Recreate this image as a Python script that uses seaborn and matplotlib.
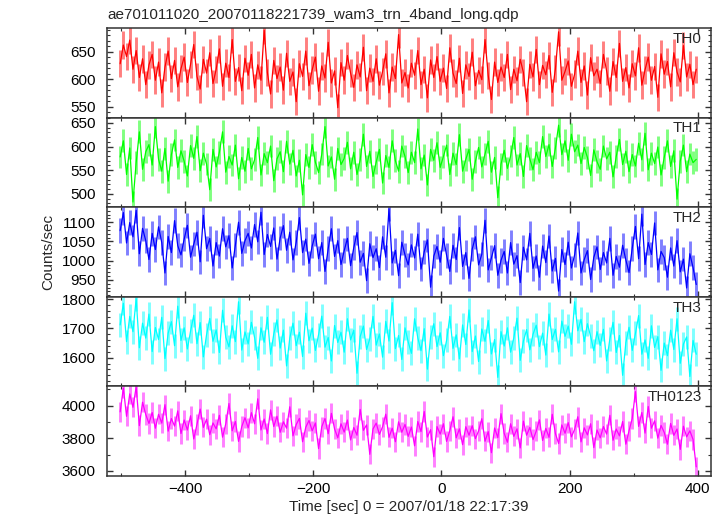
import numpy as np
import matplotlib
matplotlib.use("Agg")
import matplotlib.pyplot as plt
from matplotlib.ticker import MultipleLocator
import seaborn as sns

# light curve: one sample every 5 s, first bin at t = -502 s
t_start = -502
t_step = 5

th0 = [
    628, 662, 641, 671, 618, 652, 603, 637, 590, 626,
    645, 598, 631, 575, 622, 651, 601, 634, 586, 619,
    640, 594, 627, 663, 605, 582, 636, 611, 648, 592,
    618, 655, 587, 629, 603, 672, 596, 621, 579, 638,
    607, 645, 584, 626, 598, 689, 612, 573, 634, 601,
    622, 580, 647, 596, 613, 559, 628, 605, 651, 588,
    617, 640, 578, 624, 602, 667, 593, 615, 548, 630,
    598, 643, 611, 585, 626, 604, 658, 579, 620, 596,
    637, 589, 614, 646, 575, 622, 601, 681, 593, 612,
    584, 629, 607, 652, 590, 618, 566, 635, 603, 641,
    596, 620, 583, 657, 611, 592, 638, 574, 626, 605,
    649, 588, 616, 599, 672, 607, 563, 631, 594, 622,
    603, 645, 581, 618, 597, 636, 612, 559, 627, 604,
    654, 590, 625, 608, 643, 576, 619, 686, 598, 614,
    633, 587, 609, 651, 594, 624, 571, 639, 606, 618,
    592, 645, 615, 578, 632, 603, 665, 596, 621, 584,
    628, 606, 657, 589, 617, 640, 598, 623, 567, 646,
    609, 632, 586, 648, 613, 595, 661, 604, 627, 590,
    618,
]

th1 = [
    578, 612, 541, 597, 483, 566, 631, 552, 589, 604,
    561, 642, 573, 548, 596, 527, 583, 614, 556, 591,
    569, 538, 602, 575, 621, 549, 586, 563, 509, 594,
    557, 588, 631, 546, 579, 561, 603, 532, 577, 548,
    596, 553, 572, 619, 540, 585, 566, 601, 528, 574,
    589, 547, 611, 563, 592, 538, 571, 498, 583, 556,
    604, 567, 545, 584, 642, 559, 578, 531, 596, 562,
    575, 609, 553, 588, 541, 572, 626, 558, 590, 537,
    567, 594, 523, 581, 556, 612, 570, 548, 601, 579,
    545, 588, 566, 637, 553, 582, 519, 594, 571, 608,
    556, 579, 603, 541, 586, 562, 625, 548, 573, 594,
    531, 569, 598, 557, 584, 611, 546, 577, 492, 563,
    592, 554, 580, 619, 561, 585, 537, 602, 574, 551,
    588, 566, 621, 579, 604, 558, 597, 645, 583, 612,
    571, 626, 589, 603, 564, 598, 577, 539, 593, 568,
    552, 601, 574, 588, 536, 579, 615, 562, 590, 547,
    583, 559, 607, 572, 628, 551, 586, 564, 599, 540,
    577, 612, 558, 591, 489, 569, 603, 547, 584, 566,
    573,
]

th2 = [
    1078, 1125, 1046, 1099, 1062, 1131, 1018, 1084, 1052, 1003,
    1071, 1029, 1088, 1047, 968, 1063, 1021, 1104, 1039, 1015,
    1056, 1092, 1009, 1043, 1074, 997, 1118, 1031, 1058, 986,
    1047, 1012, 1083, 1036, 1065, 981, 1041, 1100, 1019, 1052,
    1071, 1033, 1094, 1049, 1126, 1016, 1068, 1037, 1085, 1004,
    1059, 1091, 1027, 1074, 1002, 1048, 1112, 1021, 1056, 993,
    1038, 1069, 1005, 1047, 972, 1031, 1083, 1011, 1052, 990,
    1026, 1058, 987, 1034, 1073, 996, 1019, 948, 1044, 1008,
    1031, 982, 1062, 1009, 1135, 994, 1027, 961, 1048, 1015,
    989, 1041, 1007, 1069, 978, 1023, 1054, 931, 1012, 1037,
    996, 1058, 1014, 972, 1040, 1003, 1086, 985, 1021, 954,
    1030, 1062, 989, 1017, 1105, 976, 1008, 1039, 962, 1001,
    1024, 968, 1047, 991, 1013, 943, 1035, 1002, 1071, 980,
    1012, 957, 1038, 995, 1064, 973, 1006, 921, 1029, 990,
    1048, 981, 1015, 1072, 968, 1003, 1026, 951, 1009, 1036,
    977, 1021, 994, 1058, 962, 1011, 983, 1040, 1002, 969,
    1032, 1089, 1005, 1121, 990, 1047, 1016, 1098, 976, 1024,
    1008, 957, 1033, 986, 1052, 971, 1004, 929, 1018, 982,
    938,
]

th3 = [
    1712, 1786, 1655, 1741, 1689, 1802, 1634, 1718, 1667, 1749,
    1621, 1703, 1662, 1738, 1597, 1684, 1723, 1641, 1776, 1659,
    1702, 1630, 1691, 1745, 1648, 1720, 1603, 1679, 1734, 1656,
    1695, 1618, 1762, 1670, 1637, 1709, 1655, 1791, 1626, 1688,
    1647, 1721, 1669, 1598, 1702, 1653, 1738, 1612, 1681, 1729,
    1633, 1694, 1572, 1667, 1718, 1641, 1687, 1604, 1752, 1658,
    1701, 1625, 1679, 1742, 1636, 1669, 1589, 1710, 1652, 1687,
    1619, 1733, 1661, 1694, 1547, 1672, 1708, 1628, 1665, 1741,
    1643, 1681, 1602, 1724, 1657, 1788, 1631, 1676, 1594, 1702,
    1654, 1615, 1733, 1668, 1624, 1699, 1561, 1671, 1716, 1638,
    1685, 1607, 1659, 1741, 1632, 1678, 1596, 1712, 1645, 1763,
    1621, 1674, 1587, 1698, 1656, 1727, 1613, 1662, 1533, 1689,
    1640, 1702, 1619, 1668, 1735, 1591, 1657, 1696, 1627, 1680,
    1711, 1638, 1684, 1609, 1749, 1662, 1697, 1620, 1725, 1673,
    1708, 1646, 1791, 1692, 1731, 1655, 1716, 1673, 1624, 1689,
    1642, 1697, 1589, 1663, 1721, 1618, 1676, 1540, 1651, 1704,
    1625, 1683, 1744, 1612, 1661, 1598, 1709, 1635, 1672, 1557,
    1650, 1607, 1694, 1628, 1733, 1581, 1647, 1671, 1536, 1659,
    1612,
]

th0123 = [
    3962, 4108, 3935, 4072, 3990, 4115, 3878, 4021, 3946, 3891,
    3958, 3862, 3947, 3893, 4006, 3844, 3921, 3875, 3968, 3829,
    3912, 3851, 3938, 3796, 3885, 3979, 3867, 3917, 3822, 3894,
    3858, 3941, 3807, 3889, 4013, 3846, 3903, 3781, 3872, 3926,
    3864, 3957, 3889, 4042, 3851, 3918, 3829, 3974, 3872, 3935,
    3837, 3901, 3862, 3993, 3815, 3884, 3922, 3779, 3868, 3909,
    3846, 3894, 3737, 3871, 3921, 3828, 3953, 3857, 3803, 3889,
    3838, 3912, 3790, 3866, 3819, 3977, 3849, 3882, 3702, 3857,
    3893, 3824, 3871, 3948, 3806, 3862, 3779, 3901, 3837, 3885,
    3812, 3869, 3754, 3903, 3841, 3964, 3808, 3853, 3687, 3872,
    3826, 3889, 3781, 3847, 3932, 3803, 3858, 3761, 3871, 3819,
    3877, 3798, 3846, 3920, 3782, 3841, 3712, 3863, 3804, 3951,
    3830, 3776, 3889, 3812, 3858, 3741, 3905, 3819, 3867, 3792,
    3844, 3913, 3787, 3861, 3806, 3947, 3829, 3768, 3882, 3831,
    3896, 3809, 3855, 3932, 3778, 3864, 3821, 3889, 3743, 3851,
    3803, 3872, 3826, 3941, 3788, 3857, 3815, 3903, 3764, 3846,
    3921, 4086, 3873, 3958, 3832, 3995, 3862, 3907, 3801, 3879,
    3836, 3764, 3891, 3818, 3857, 3732, 3874, 3809, 3846, 3793,
    3625,
]

band_names = ["TH0", "TH1", "TH2", "TH3", "TH0123"]
band_rates = [th0, th1, th2, th3, th0123]
# typical 1-sigma error bar of each band (counts/sec)
band_errors = [25, 24, 32, 41, 62]
band_colors = ["#ff0000", "#00ff00", "#0000ff", "#00ffff", "#ff00ff"]
band_ylims = [(530, 693), (472, 661), (906, 1139), (1502, 1808), (3569, 4118)]
band_major = [50, 50, 50, 100, 200]
band_minor = [10, 10, 10, 20, 100]

title = "ae701011020_20070118221739_wam3_trn_4band_long.qdp"

sns.set_theme(style="ticks")
plt.rcParams["font.family"] = ["Liberation Sans", "DejaVu Sans"]
plt.rcParams["font.size"] = 11

fig, axes = plt.subplots(5, 1, figsize=(7.24, 5.16), dpi=100, sharex=True)
fig.subplots_adjust(left=0.1474, right=0.982, bottom=0.0775, top=0.9457, hspace=0)

for ax, name, rates, err, color, ylim, major, minor in zip(
        axes, band_names, band_rates, band_errors, band_colors,
        band_ylims, band_major, band_minor):
    times = t_start + t_step * np.arange(len(rates))
    # lighter error bars behind the curve
    ax.errorbar(times, rates, yerr=err, fmt="none", ecolor=color,
                elinewidth=2.1, alpha=0.5, capsize=0)
    sns.lineplot(x=times, y=rates, ax=ax, color=color, linewidth=0.9, estimator=None)
    ax.set_ylim(*ylim)
    ax.yaxis.set_major_locator(MultipleLocator(major))
    ax.yaxis.set_minor_locator(MultipleLocator(minor))
    ax.xaxis.set_major_locator(MultipleLocator(200))
    ax.xaxis.set_minor_locator(MultipleLocator(100))
    ax.tick_params(which="both", direction="in", top=True, right=True,
                   labelsize=11, colors="0.2", labelcolor="black")
    ax.tick_params(which="major", length=4.5, width=1.0)
    ax.tick_params(which="minor", length=2.4, width=0.8)
    ax.tick_params(axis="y", pad=8)
    ax.tick_params(axis="x", pad=4)
    for sp in ax.spines.values():
        sp.set_visible(True)
        sp.set_linewidth(1.1)
        sp.set_color("0.2")
    ax.text(0.985, 0.836, name, transform=ax.transAxes, ha="right",
            va="baseline", fontsize=11)

axes[-1].set_xlim(-523, 421)
axes[-1].set_xlabel("Time [sec] 0 = 2007/01/18 22:17:39", fontsize=11, labelpad=3)

fig.text(107 / 724, 1 - 19 / 516, title, ha="left", va="baseline", fontsize=11)
fig.text(48 / 724, 0.512, "Counts/sec", rotation=90, ha="center", va="center", fontsize=11)

plt.savefig("out.png", dpi=100)
